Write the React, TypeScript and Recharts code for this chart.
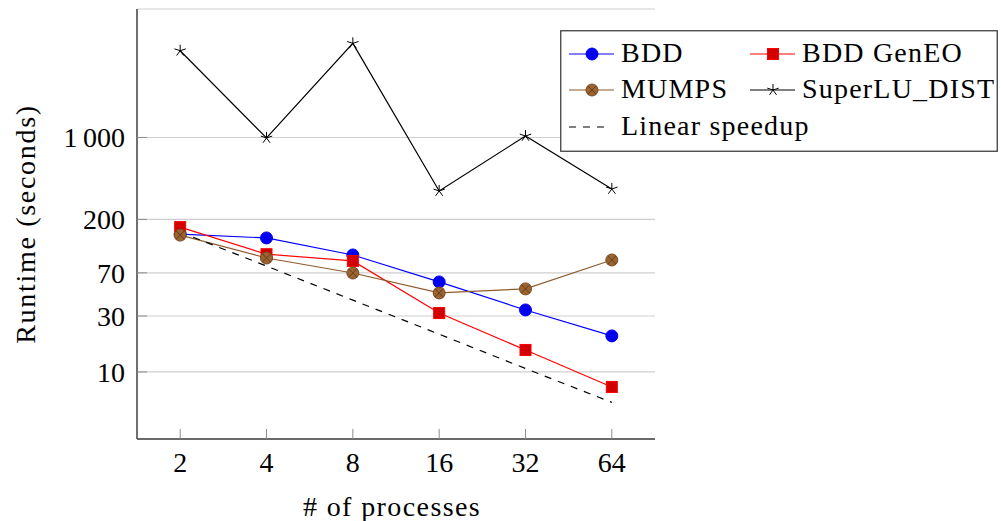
import { LineChart, Line, XAxis, YAxis, CartesianGrid } from 'recharts';

const processes = [2, 4, 8, 16, 32, 64];
const bdd = [150, 139, 99.5, 58.6, 33.8, 20.3];
const bddGeneo = [172, 101, 88.5, 31.8, 15.4, 7.45];
const mumps = [147, 93.8, 69.8, 47.2, 51.1, 90.2];
const superlu = [5496, 991, 6353, 350, 1030, 364];
const linearSpeedup = [156, 80, 41, 21, 10.7, 5.5];
const yTicks = [10, 30, 70, 200, 1000];

const FONT = "'Liberation Serif', 'Times New Roman', serif";
const FRAME = '#404040';
const TICK = '#8c8c8c';

const data = processes.map((p, i) => ({
  p,
  bdd: bdd[i],
  geneo: bddGeneo[i],
  mumps: mumps[i],
  superlu: superlu[i],
  linear: linearSpeedup[i],
}));

type Mark = (cx: number, cy: number, key?: string | number) => JSX.Element;

const circleMark: Mark = (cx, cy, key) => (
  <circle key={key} cx={cx} cy={cy} r={6} fill="#0000ee" stroke="#0000ff" strokeWidth={1} />
);

const squareMark: Mark = (cx, cy, key) => (
  <rect key={key} x={cx - 5.5} y={cy - 5.5} width={11} height={11} fill="#d20000" stroke="#ff0000" strokeWidth={1} />
);

const otimesMark: Mark = (cx, cy, key) => (
  <g key={key}>
    <circle cx={cx} cy={cy} r={6} fill="#9a6330" stroke="#7a4d22" strokeWidth={1} />
    <line x1={cx - 4.2} y1={cy - 4.2} x2={cx + 4.2} y2={cy + 4.2} stroke="#5e3a18" strokeWidth={0.9} />
    <line x1={cx - 4.2} y1={cy + 4.2} x2={cx + 4.2} y2={cy - 4.2} stroke="#5e3a18" strokeWidth={0.9} />
  </g>
);

const starMark: Mark = (cx, cy, key) => (
  <g key={key}>
    {[0, 1, 2, 3, 4].map((k) => {
      const a = -Math.PI / 2 + (k * 2 * Math.PI) / 5;
      return (
        <line key={k} x1={cx} y1={cy} x2={cx + 6 * Math.cos(a)} y2={cy + 6 * Math.sin(a)} stroke="#000" strokeWidth={1} />
      );
    })}
  </g>
);

const series = [
  { key: 'bdd', name: 'BDD', color: '#0000ff', mark: circleMark, dash: undefined },
  { key: 'geneo', name: 'BDD GenEO', color: '#ff0000', mark: squareMark, dash: undefined },
  { key: 'mumps', name: 'MUMPS', color: '#8f5b2c', mark: otimesMark, dash: undefined },
  { key: 'superlu', name: 'SuperLU_DIST', color: '#000000', mark: starMark, dash: undefined },
  { key: 'linear', name: 'Linear speedup', color: '#000000', mark: null as Mark | null, dash: '7 7' },
];

const xDomain = [Math.SQRT2, 64 * Math.SQRT2];
const yDomain = [2.68, 12470];

const fmtY = (v: number) => (v === 1000 ? '1\u2009000' : String(v));

function LegendBox() {
  const slots = [
    { x: 8, y: 23 },
    { x: 189, y: 23 },
    { x: 8, y: 59 },
    { x: 189, y: 59 },
    { x: 8, y: 96 },
  ];
  return (
    <svg
      width={438}
      height={122}
      style={{ position: 'absolute', left: 560, top: 30, fontFamily: FONT }}
    >
      <rect x={0.75} y={0.75} width={436.5} height={120.5} fill="#fff" stroke={FRAME} strokeWidth={1.3} />
      {series.map((s, i) => {
        const { x, y } = slots[i];
        const isDash = !!s.dash;
        return (
          <g key={s.key}>
            <line
              x1={x + 1}
              y1={y + 1}
              x2={x + 1 + (isDash ? 40 : 45)}
              y2={y + 1}
              stroke={s.color}
              strokeWidth={1.2}
              strokeDasharray={s.dash}
            />
            {s.mark ? s.mark(x + 24, y + 1) : null}
            <text x={x + 53} y={y + 9} fontSize={28} letterSpacing={1.2} fill="#000">
              {s.name}
            </text>
          </g>
        );
      })}
    </svg>
  );
}

export default function App() {
  return (
    <div style={{ position: 'relative', width: 1001, height: 521, fontFamily: FONT, background: '#fff', overflow: 'hidden' }}>
      <style>{'body{margin:0}'}</style>
      <LineChart width={1001} height={521} data={data} margin={{ top: 9, right: 346, bottom: 0, left: 0 }}>
        <CartesianGrid xAxisId="b" yAxisId="l" vertical={false} stroke="#cfcfcf" strokeWidth={1.2} />
        <XAxis
          xAxisId="b"
          dataKey="p"
          type="number"
          scale="log"
          domain={xDomain}
          allowDataOverflow
          ticks={processes}
          interval={0}
          height={82}
          tickSize={-10}
          tickMargin={23}
          tickLine={{ stroke: TICK }}
          axisLine={{ stroke: FRAME, strokeWidth: 1.5 }}
          tick={{ fill: '#000', fontSize: 28, fontFamily: FONT }}
          label={{
            value: '# of processes',
            position: 'insideBottom',
            offset: 5,
            dx: -4,
            fill: '#000',
            fontSize: 28,
            fontFamily: FONT,
            style: { letterSpacing: '1.4px' },
          }}
        />
        <XAxis
          xAxisId="t"
          orientation="top"
          dataKey="p"
          type="number"
          scale="log"
          domain={xDomain}
          allowDataOverflow
          ticks={processes}
          interval={0}
          height={0}
          tickSize={-10}
          tickLine={{ stroke: TICK }}
          axisLine={{ stroke: FRAME, strokeWidth: 1.5 }}
          tickFormatter={() => ''}
        />
        <YAxis
          yAxisId="l"
          type="number"
          scale="log"
          domain={yDomain}
          allowDataOverflow
          ticks={yTicks}
          interval={0}
          width={137}
          tickSize={-10}
          tickMargin={22}
          tickFormatter={fmtY}
          tickLine={{ stroke: TICK }}
          axisLine={{ stroke: FRAME, strokeWidth: 1.5 }}
          tick={{ fill: '#000', fontSize: 28, fontFamily: FONT }}
          label={{
            value: 'Runtime (seconds)',
            angle: -90,
            position: 'insideLeft',
            offset: 25,
            fill: '#000',
            fontSize: 28,
            fontFamily: FONT,
            style: { textAnchor: 'middle', letterSpacing: '1.7px' },
          }}
        />
        <YAxis
          yAxisId="r"
          orientation="right"
          type="number"
          scale="log"
          domain={yDomain}
          allowDataOverflow
          ticks={yTicks}
          interval={0}
          width={0}
          tickSize={-10}
          tickLine={{ stroke: TICK }}
          axisLine={{ stroke: FRAME, strokeWidth: 1.5 }}
          tickFormatter={() => ''}
        />
        {series.map((s) => (
          <Line
            key={s.key}
            xAxisId="b"
            yAxisId="l"
            dataKey={s.key}
            name={s.name}
            type="linear"
            stroke={s.color}
            strokeWidth={1.2}
            strokeDasharray={s.dash}
            dot={
              s.mark
                ? (props: any) => (s.mark as Mark)(props.cx, props.cy, `${s.key}-${props.index}`)
                : false
            }
            activeDot={false}
            isAnimationActive={false}
          />
        ))}
      </LineChart>
      <LegendBox />
    </div>
  );
}
